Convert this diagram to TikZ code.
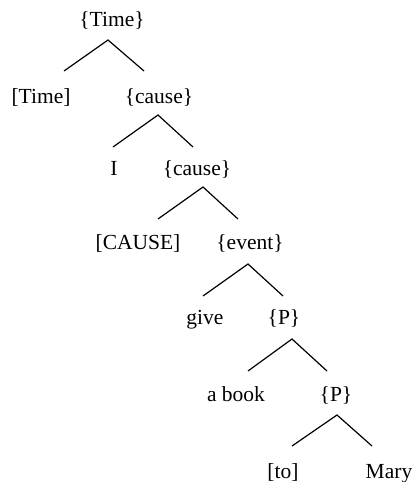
\documentclass[tikz,border=0pt]{standalone}
\usepackage{fontspec}
\setmainfont{Liberation Serif}
\begin{document}
\begin{tikzpicture}[x=1pt,y=-1pt,
  lbl/.style={anchor=base,inner sep=0pt,font=\fontsize{21.5}{24}\selectfont},
  branch/.style={line width=1.2pt,black}]
\useasboundingbox (0,0) rectangle (414,482);
% labels
\node[lbl] (n0) at (112,26) {\{Time\}};
\node[lbl] (n1) at (41,103) {[Time]};
\node[lbl] (n2) at (159,103) {\{cause\}};
\node[lbl] (n3) at (114,175) {I};
\node[lbl] (n4) at (197,175) {\{cause\}};
\node[lbl] (n5) at (138,249) {[CAUSE]};
\node[lbl] (n6) at (250,249) {\{event\}};
\node[lbl] (n7) at (205,324) {give};
\node[lbl] (n8) at (284,324) {\{P\}};
\node[lbl] (n9) at (236,401) {a book};
\node[lbl] (n10) at (336,401) {\{P\}};
\node[lbl] (n11) at (283,478) {[to]};
\node[lbl] (n12) at (389,478) {Mary};
% branch points
\coordinate (a1) at (108,40);  \coordinate (l1) at (64,71);  \coordinate (r1) at (144,71);
\coordinate (a2) at (158,115); \coordinate (l2) at (113,147); \coordinate (r2) at (193,147);
\coordinate (a3) at (203,187); \coordinate (l3) at (158,219); \coordinate (r3) at (238,219);
\coordinate (a4) at (248,264); \coordinate (l4) at (203,296); \coordinate (r4) at (283,296);
\coordinate (a5) at (292,339); \coordinate (l5) at (248,371); \coordinate (r5) at (327,371);
\coordinate (a6) at (337,415); \coordinate (l6) at (292,446); \coordinate (r6) at (372,446);
\foreach \i in {1,...,6}{
  \draw[branch] (l\i) -- (a\i) -- (r\i);
}
\end{tikzpicture}
\end{document}
